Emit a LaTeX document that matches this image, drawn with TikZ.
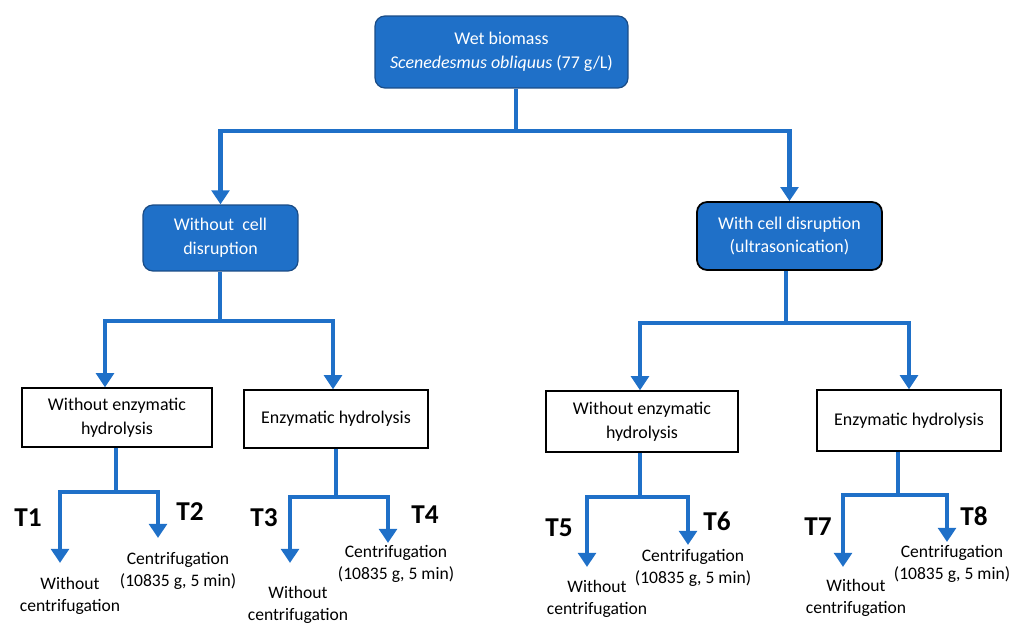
\documentclass[tikz,border=0pt]{standalone}
\usepackage{fontspec}
\setmainfont{Carlito}
\usetikzlibrary{arrows.meta, positioning}
\definecolor{flowblue}{HTML}{1F70C8}
\definecolor{edgeblue}{HTML}{1A4C86}

\begin{document}
\begin{tikzpicture}[x=0.02cm, y=-0.02cm,
  bluebox/.style={draw=edgeblue, line width=0.7pt, fill=flowblue, rounded corners=0.2cm, text=white, align=center, inner sep=0pt, font=\fontsize{10.2}{13.5}\selectfont},
  whitebox/.style={draw=black, line width=0.8pt, align=center, inner sep=0pt, font=\fontsize{10.2}{13.5}\selectfont},
  flow/.style={draw=flowblue, line width=2.7pt},
  flowarrow/.style={flow, -{Triangle[width=10pt, length=8pt]}},
  result/.style={align=center, inner sep=0pt, font=\fontsize{10}{12.5}\selectfont},
  tlabel/.style={inner sep=0pt, font=\fontsize{15.5}{18}\selectfont\bfseries}]
  \useasboundingbox (0,0) rectangle (1011,624);

  \node[bluebox, minimum width=5.06cm, minimum height=1.44cm] (wet) at (501.5,52) {Wet biomass\\\textit{Scenedesmus obliquus} (77 g/L)};
  \node[bluebox, minimum width=3.1cm, minimum height=1.32cm] (nocd) at (220.5,238) {Without\ \ cell\\disruption};
  \node[bluebox, draw=black, line width=1pt, minimum width=3.7cm, minimum height=1.36cm] (withcd) at (789.5,236) {With cell disruption\\(ultrasonication)};

  \node[whitebox, minimum width=3.8cm, minimum height=1.18cm] (noenzA) at (117,417.5) {Without enzymatic\\hydrolysis};
  \node[whitebox, minimum width=3.68cm, minimum height=1.16cm] (enzA) at (336,419) {Enzymatic hydrolysis};
  \node[whitebox, minimum width=3.84cm, minimum height=1.22cm] (noenzB) at (642,421.5) {Without enzymatic\\hydrolysis};
  \node[whitebox, minimum width=3.68cm, minimum height=1.22cm] (enzB) at (909,420.5) {Enzymatic hydrolysis};

  \node[result] (wc1) at (70,596) {Without\\centrifugation};
  \node[result] (cf1) at (178,571) {Centrifugation\\(10835 g, 5 min)};
  \node[result] (wc2) at (298,605) {Without\\centrifugation};
  \node[result] (cf2) at (396,564) {Centrifugation\\(10835 g, 5 min)};
  \node[result] (wc3) at (597,599) {Without\\centrifugation};
  \node[result] (cf3) at (693,568) {Centrifugation\\(10835 g, 5 min)};
  \node[result] (wc4) at (856,598) {Without\\centrifugation};
  \node[result] (cf4) at (952,564) {Centrifugation\\(10835 g, 5 min)};

  \node[tlabel] (t1) at (28,518) {T1};
  \node[tlabel] (t2) at (190,512) {T2};
  \node[tlabel] (t3) at (264,518) {T3};
  \node[tlabel] (t4) at (425,515) {T4};
  \node[tlabel] (t5) at (559,528) {T5};
  \node[tlabel] (t6) at (717,521) {T6};
  \node[tlabel] (t7) at (818,527) {T7};
  \node[tlabel] (t8) at (974,516) {T8};

  \coordinate (j0) at (516,131);
  \coordinate (j1) at (220,321);
  \coordinate (j2) at (786,323);
  \coordinate (j3) at (116,492);
  \coordinate (j4) at (336,497);
  \coordinate (j5) at (640,497);
  \coordinate (j6) at (898,495);

  \coordinate (e1) at (60,563);
  \coordinate (e2) at (158,538);
  \coordinate (e3) at (290,563);
  \coordinate (e4) at (388,543);
  \coordinate (e5) at (587,567);
  \coordinate (e6) at (688,545);
  \coordinate (e7) at (843,567);
  \coordinate (e8) at (947,542);

  \draw[flow] (wet.south -| j0) -- (j0);
  \draw[flowarrow] (j0) -| (nocd.north);
  \draw[flowarrow] (j0) -| (withcd.north);

  \draw[flow] (nocd.south -| j1) -- (j1);
  \draw[flowarrow] (j1) -| ([xshift=-0.24cm]noenzA.north);
  \draw[flowarrow] (j1) -| ([xshift=-0.06cm]enzA.north);

  \draw[flow] (withcd.south -| j2) -- (j2);
  \draw[flowarrow] (j2) -| ([xshift=-0.04cm]noenzB.north);
  \draw[flowarrow] (j2) -| (enzB.north);

  \draw[flow] (noenzA.south -| j3) -- (j3);
  \draw[flowarrow] (j3) -| (e1);
  \draw[flowarrow] (j3) -| (e2);

  \draw[flow] (enzA.south -| j4) -- (j4);
  \draw[flowarrow] (j4) -| (e3);
  \draw[flowarrow] (j4) -| (e4);

  \draw[flow] (noenzB.south -| j5) -- (j5);
  \draw[flowarrow] (j5) -| (e5);
  \draw[flowarrow] (j5) -| (e6);

  \draw[flow] (enzB.south -| j6) -- (j6);
  \draw[flowarrow] (j6) -| (e7);
  \draw[flowarrow] (j6) -| (e8);
\end{tikzpicture}
\end{document}
